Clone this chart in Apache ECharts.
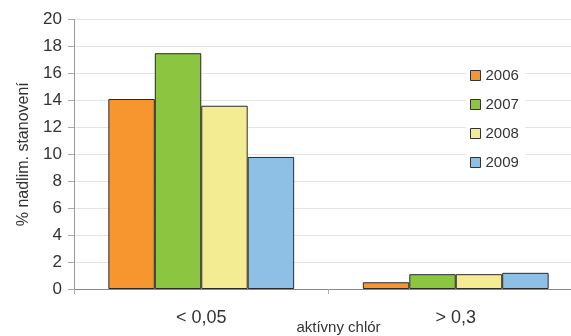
<!DOCTYPE html>
<html><head><meta charset="utf-8">
<script src="https://cdn.jsdelivr.net/npm/echarts@6/dist/echarts.min.js"></script>
<style>html,body{margin:0;padding:0;background:#fff}#c{width:571px;height:336px}</style>
</head><body><div id="c"></div>
<script>
const categories = ['< 0,05', '> 0,3'];
const seriesNames = ['2006', '2007', '2008', '2009'];
const v2006 = [14.1, 0.5];
const v2007 = [17.5, 1.1];
const v2008 = [13.6, 1.1];
const v2009 = [9.8, 1.2];
const yTicks = [0, 2, 4, 6, 8, 10, 12, 14, 16, 18, 20];
const colors = ['#F7962F', '#8CC53F', '#F4EC93', '#8EC0E6'];
const values = [v2006, v2007, v2008, v2009];
const font = 'Liberation Sans, Arial, sans-serif';
const chart = echarts.init(document.getElementById('c'));
chart.setOption({
  animation: false,
  backgroundColor: '#fff',
  textStyle: {fontFamily: font},
  grid: {left: 74, right: -12, top: 19.5, bottom: 47, containLabel: false, outerBoundsMode: 'none'},
  legend: {
    orient: 'vertical', left: 466, top: 66, itemGap: 14,
    itemWidth: 10, itemHeight: 10, icon: 'rect',
    backgroundColor: '#fff', padding: [2, 6, 2, 4],
    textStyle: {fontSize: 15, color: '#333', fontFamily: font},
    data: seriesNames.map(function(n, i){ return {name: n, itemStyle: {color: colors[i], borderColor: '#333', borderWidth: 1}}; })
  },
  xAxis: {
    type: 'category', data: categories,
    name: 'aktívny chlór', nameLocation: 'middle', nameGap: 31, nameMoveOverlap: false,
    nameTextStyle: {fontSize: 15, color: '#333', verticalAlign: 'top', padding: [0, 0, 0, 20]},
    axisLine: {lineStyle: {color: '#888'}},
    axisTick: {show: true, length: 5, lineStyle: {color: '#aaa'}},
    axisLabel: {fontSize: 18, color: '#333', margin: 20}
  },
  yAxis: {
    type: 'value', min: 0, max: 20, interval: 2,
    name: '% nadlim. stanovení', nameLocation: 'middle', nameGap: 42, nameRotate: 90, nameMoveOverlap: false,
    nameTextStyle: {fontSize: 16, color: '#333'},
    axisLine: {show: true, lineStyle: {color: '#999'}},
    axisTick: {show: true, length: 6, lineStyle: {color: '#aaa'}},
    axisLabel: {fontSize: 17, color: '#333', margin: 12},
    splitLine: {lineStyle: {color: '#e4e4e4'}}
  },
  series: seriesNames.map(function(n, i){
    return {
      name: n, type: 'bar', data: values[i],
      barGap: '0%', barCategoryGap: '27%',
      itemStyle: {color: colors[i], borderColor: '#2a2a2a', borderWidth: 1}
    };
  })
});
</script></body></html>
